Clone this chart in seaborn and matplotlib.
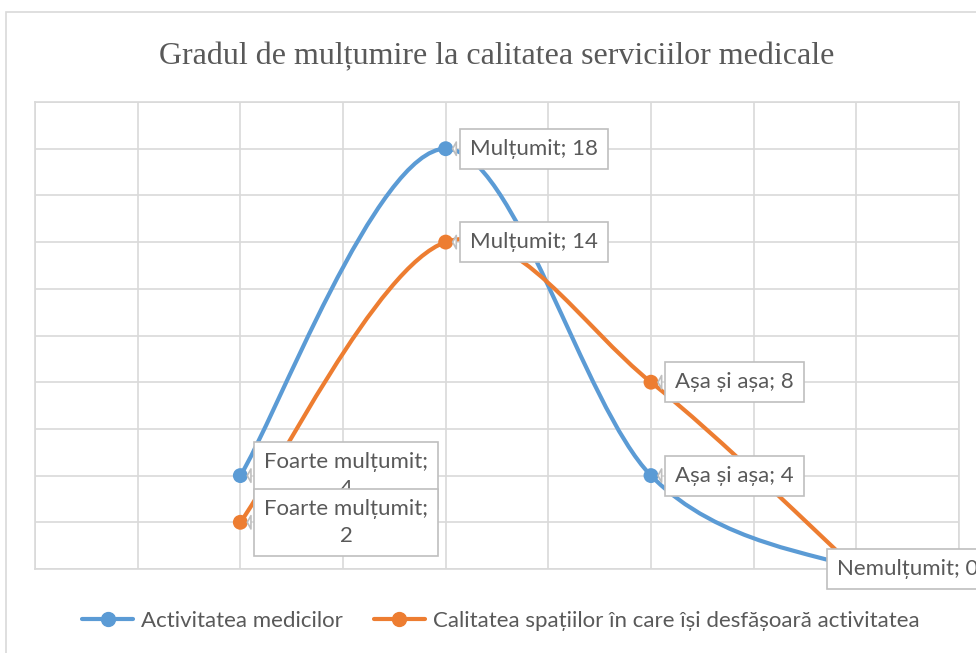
import matplotlib
matplotlib.use("Agg")
import matplotlib.pyplot as plt
import numpy as np
import pandas as pd
import seaborn as sns
from matplotlib.lines import Line2D
from matplotlib.path import Path
from matplotlib.patches import PathPatch, Rectangle

# ── Date ──────────────────────────────────────────────────────────────
categorii = ["Foarte mulțumit", "Mulțumit", "Așa și așa", "Nemulțumit"]
activitatea_medicilor = [4, 18, 4, 0]
calitatea_spatiilor = [2, 14, 8, 0]
serii = ["Activitatea medicilor", "Calitatea spațiilor în care își desfășoară activitatea"]

# eticheta afisata in caseta (Excel rupe "Foarte mulțumit;" pe doua randuri)
etichete_medici = ["Foarte mulțumit;\n4", "Mulțumit; 18", "Așa și așa; 4", "Nemulțumit; 0"]
etichete_spatii = ["Foarte mulțumit;\n2", "Mulțumit; 14", "Așa și așa; 8", "Nemulțumit; 0"]

culori = {serii[0]: "#5B9BD5", serii[1]: "#ED7D31"}
gri_text = "#595959"
gri_grila = "#D9D9D9"

# pozitiile categoriilor pe axa (axa are 9 diviziuni)
x_pos = [2 * (i + 1) for i in range(len(categorii))]

df = pd.DataFrame({
    "x": x_pos * 2,
    "y": activitatea_medicilor + calitatea_spatiilor,
    "serie": [serii[0]] * 4 + [serii[1]] * 4,
})

sns.set_theme(style="white")
plt.rcParams["font.family"] = ["Lato", "DejaVu Sans"]

fig = plt.figure(figsize=(9.76, 6.53), dpi=100)
ax = fig.add_axes([35 / 976, 1 - 569 / 653, (959 - 35) / 976, (569 - 102) / 653])

# chenarul graficului
fig.patches.append(Rectangle((6 / 976, -0.01), 1.0, 1 - 12 / 653 + 0.01, transform=fig.transFigure,
                             fill=False, ec="#D9D9D9", lw=1.2))


def curba_neteda(xs, ys):
    """Bezier cubic in stil Excel (linie netezita) prin punctele date."""
    pts = np.column_stack([xs, ys]).astype(float)
    n = len(pts)
    verts = [pts[0]]
    codes = [Path.MOVETO]
    for i in range(n - 1):
        p0 = pts[max(i - 1, 0)]
        p1 = pts[i]
        p2 = pts[i + 1]
        p3 = pts[min(i + 2, n - 1)]
        c1 = p1 + (p2 - p0) / 6.0
        c2 = p2 - (p3 - p1) / 6.0
        verts += [c1, c2, p2]
        codes += [Path.CURVE4] * 3
    return Path(verts, codes)


for serie, valori in zip(serii, [activitatea_medicilor, calitatea_spatiilor]):
    ax.add_patch(PathPatch(curba_neteda(x_pos, valori), fill=False, ec=culori[serie],
                           lw=3, capstyle="round", joinstyle="round", zorder=2))

sns.scatterplot(data=df, x="x", y="y", hue="serie", palette=culori, s=115,
                edgecolor="none", legend=False, ax=ax, zorder=3)

ax.set_xlim(0, 9)
ax.set_ylim(0, 20)
ax.set_xticks(range(0, 10))
ax.set_yticks(range(0, 21, 2))
ax.set_xticklabels([])
ax.set_yticklabels([])
ax.tick_params(length=0)
ax.set_xlabel("")
ax.set_ylabel("")
ax.grid(True, color=gri_grila, lw=1.2)
for s in ax.spines.values():
    s.set_color(gri_grila)
    s.set_linewidth(1.2)

# ── Etichete de date (casete cu indicator) ───────────────────────────
caseta = dict(boxstyle="square,pad=0.45", fc="white", ec="#BFBFBF", lw=1.2)
sageata = dict(arrowstyle="wedge,tail_width=0.6,shrink_factor=0.5", fc="white",
               ec="#BFBFBF", lw=1.2, shrinkB=5)

for etichete, valori, z in [(etichete_medici, activitatea_medicilor, 5),
                            (etichete_spatii, calitatea_spatiilor, 6)]:
    for i, (txt, v) in enumerate(zip(etichete, valori)):
        if i == len(categorii) - 1:
            # Nemulțumit: Excel a mutat caseta peste punct
            if etichete is etichete_medici:
                continue
            ax.annotate(txt, (x_pos[i], v), xytext=(-19, 0), textcoords="offset pixels",
                        ha="left", va="center", fontsize=16, color=gri_text,
                        bbox=caseta, zorder=z, annotation_clip=False)
            continue
        ax.annotate(txt, (x_pos[i], v), xytext=(24, 0), textcoords="offset pixels",
                    ha="left", va="center", multialignment="center", fontsize=16,
                    linespacing=1.45, color=gri_text, bbox=caseta, arrowprops=sageata, zorder=z)

ax.set_title("Gradul de mulțumire la calitatea serviciilor medicale",
             fontfamily="Liberation Serif", fontsize=23, color=gri_text, pad=27)

handles = [Line2D([0], [0], color=culori[s], lw=3, marker="o", markersize=10) for s in serii]
fig.legend(handles, serii, loc="center", bbox_to_anchor=(0.513, 1 - 621 / 653), ncol=2,
           frameon=False, fontsize=16, labelcolor=gri_text, handlelength=2.3,
           handletextpad=0.35, columnspacing=1.4)

fig.savefig("out.png", dpi=100)
